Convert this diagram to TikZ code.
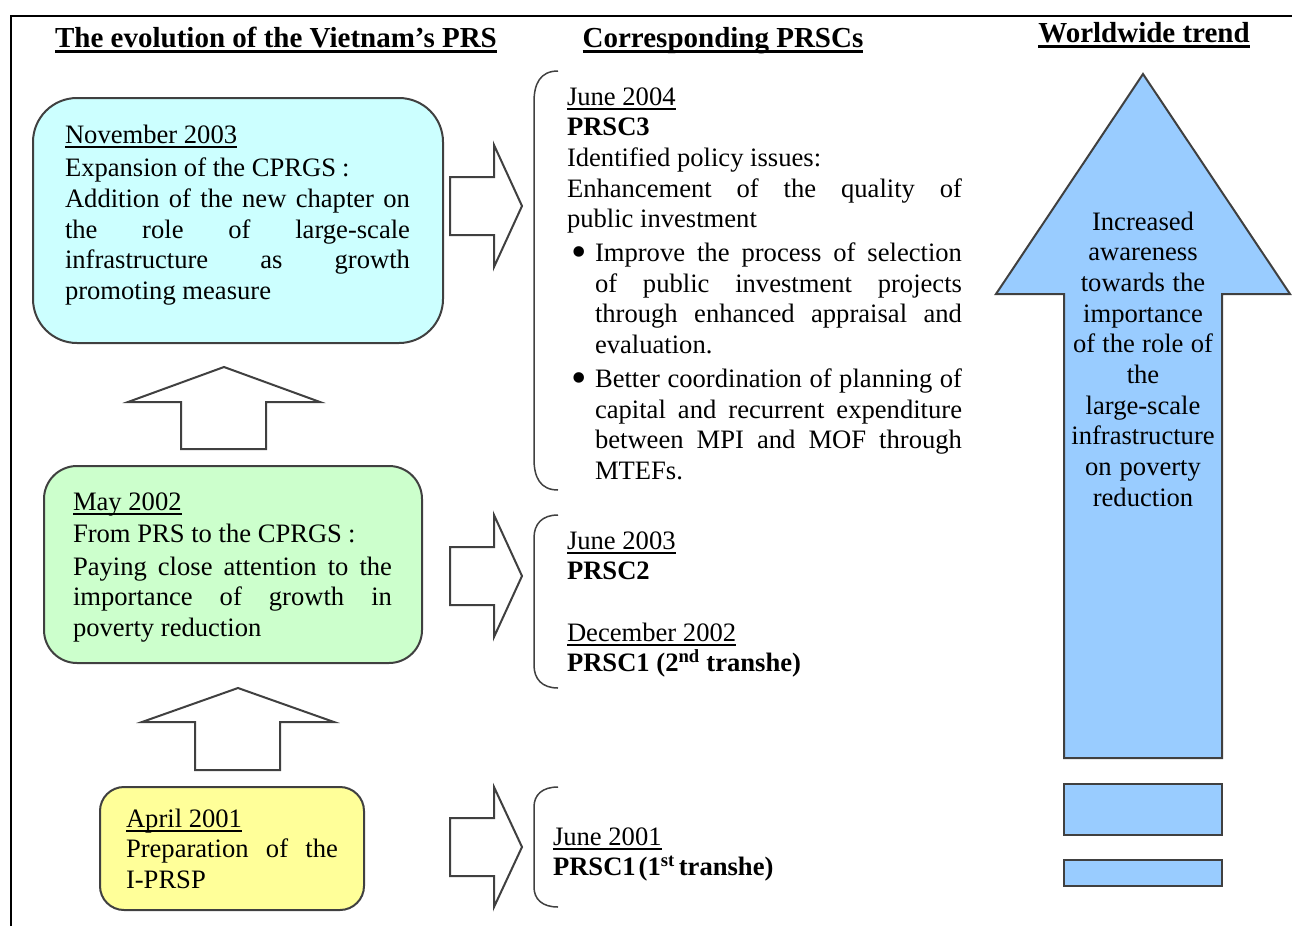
\documentclass[tikz,border=0pt]{standalone}
\usepackage{fontspec}
\setmainfont{Liberation Serif}
\definecolor{cyanfill}{HTML}{CCFFFF}
\definecolor{greenfill}{HTML}{CCFFCC}
\definecolor{yellowfill}{HTML}{FFFF99}
\definecolor{bluefill}{HTML}{99CCFF}
\definecolor{edge}{HTML}{404040}
% underlined date / heading with a rule at a fixed depth
\newcommand\dateul[1]{\leavevmode{\setbox0\hbox{#1}\rlap{\rule[-4.6pt]{\wd0}{1.4pt}}\box0}}
\newcommand\headul[1]{\leavevmode{\setbox0\hbox{#1}\rlap{\rule[-5.6pt]{\wd0}{2.5pt}}\box0}}
% wide colon after the strategy name
\newcommand\wcolon{\hspace{6pt}:}
% fully justified line (stretchable word spaces), plain and inside a bulleted item
\newcommand\jline[1]{\makebox[\hsize][s]{\spaceskip=0pt\xspaceskip=0pt #1}}
\newcommand\bdot{\makebox[28pt][l]{\hspace*{4pt}{\fontsize{44}{44}\selectfont\raisebox{-5pt}{\textbullet}}}}
\newcommand\bjline[1]{\hspace*{28pt}\makebox[\dimexpr\hsize-28pt\relax][s]{\spaceskip=0pt\xspaceskip=0pt #1}}
\newcommand\bfirst[1]{\bdot\makebox[\dimexpr\hsize-28pt\relax][s]{\spaceskip=0pt\xspaceskip=0pt #1}}
\newcommand\bplain[1]{\hspace*{28pt}#1}
\begin{document}
\begin{tikzpicture}[x=1pt,y=-1pt,
  every node/.style={inner sep=0pt, outer sep=0pt},
  body/.style={font=\fontsize{26.6}{30.7}\selectfont, align=left, anchor=base west,
    execute at begin node={\spaceskip=0pt\xspaceskip=0pt}},
  heading/.style={font=\fontsize{29}{33}\selectfont\bfseries, anchor=base},
  panel/.style={draw=edge, line width=2pt},
  blockarrow/.style={draw=edge, line width=2pt, fill=white, line join=miter},
  brace/.style={draw=edge, line width=1.5pt},
  frame/.style={draw=black, line width=1.3pt}]
\useasboundingbox (0,0) rectangle (1292,926);

% page frame
\draw[frame] (11,926) -- (11,16) -- (1292,16);

% column headings
\node[heading] (h1) at (276,47) {\headul{The evolution of the Vietnam’s PRS}};
\node[heading] (h2) at (723,47) {\headul{Corresponding PRSCs}};
\node[heading] (h3) at (1144,42) {\headul{Worldwide trend}};

% stages of the strategy
\node[panel, fill=cyanfill, rounded corners=44pt, minimum width=410pt, minimum height=245pt] (cprgs2003) at (238,220.5) {};
\node[panel, fill=greenfill, rounded corners=33pt, minimum width=378pt, minimum height=197pt] (cprgs2002) at (233,564.5) {};
\node[panel, fill=yellowfill, rounded corners=24pt, minimum width=264pt, minimum height=123pt] (iprsp2001) at (232,848.5) {};

\node[body, text width=345pt] (t2003) at (65,143) {%
\dateul{November 2003}\\[3pt]
Expansion of the CPRGS\wcolon\\
\jline{Addition of the new chapter on}\\
\jline{the role of large-scale}\\
\jline{infrastructure as growth}\\
promoting measure};

\node[body, text width=319pt] (t2002) at (73,510) {%
\dateul{May 2002}\\[1.3pt]
From PRS to the CPRGS\wcolon\\[2.3pt]
\jline{Paying close attention to the}\\
\jline{importance of growth in}\\
poverty reduction};

\node[body, text width=212pt] (t2001) at (126,827) {%
\dateul{April 2001}\\
\jline{Preparation of the}\\
I-PRSP};

% upward block arrows between the stages
\draw[blockarrow] (224,367) -- (320,402) -- (266,402) -- (266,449) -- (181,449) -- (181,402) -- (128,402) -- cycle;
\draw[blockarrow] (238,688) -- (334,722) -- (280,722) -- (280,770) -- (195,770) -- (195,722) -- (142,722) -- cycle;

% block arrows towards the PRSCs
\draw[blockarrow] (450,177) -- (494,177) -- (494,145) -- (522,206) -- (494,267) -- (494,235) -- (450,235) -- cycle;
\draw[blockarrow] (450,547) -- (494,547) -- (494,515) -- (522,576) -- (494,637) -- (494,605) -- (450,605) -- cycle;
\draw[blockarrow] (450,818) -- (494,818) -- (494,787) -- (522,847) -- (494,907) -- (494,876) -- (450,876) -- cycle;

% brackets round the PRSC texts
\draw[brace] (558,71) .. controls (540,71) and (534,84) .. (534,102) -- (534,459) .. controls (534,477) and (540,490) .. (558,490);
\draw[brace] (558,515) .. controls (542,515) and (534,524) .. (534,538) -- (534,665) .. controls (534,679) and (542,688) .. (558,688);
\draw[brace] (558,787) .. controls (542,787) and (534,795) .. (534,807) -- (534,887) .. controls (534,899) and (542,907) .. (558,907);

\node[body, text width=395pt] (prsc3) at (567,105) {%
\dateul{June 2004}\\
\textbf{PRSC3}\\
Identified policy issues:\\
\jline{Enhancement of the quality of}\\
public investment\\[3pt]
\bfirst{Improve the process of selection}\\
\bjline{of public investment projects}\\
\bjline{through enhanced appraisal and}\\
\bplain{evaluation.}\\[3pt]
\bfirst{Better coordination of planning of}\\
\bjline{capital and recurrent expenditure}\\
\bjline{between MPI and MOF through}\\
\bplain{MTEFs.}};

\node[body, text width=320pt] (prsc2) at (567,549) {%
\dateul{June 2003}\\
\textbf{PRSC2}\\[30.7pt]
\dateul{December 2002}\\
\textbf{PRSC1 (2\textsuperscript{nd} transhe)}};

\node[body, text width=320pt] (prsc1) at (553,845) {%
\dateul{June 2001}\\
\textbf{PRSC1\hspace{3pt}(1\textsuperscript{st}\hspace{4pt}transhe)}};

% worldwide trend arrow
\draw[draw=edge, line width=2pt, fill=bluefill, line join=miter]
  (1143,74) -- (1290,294) -- (1222,294) -- (1222,758) -- (1064,758) -- (1064,294) -- (996,294) -- cycle;
\draw[draw=edge, line width=2pt, fill=bluefill] (1064,784) rectangle (1222,835);
\draw[draw=edge, line width=2pt, fill=bluefill] (1064,860) rectangle (1222,886);

\node[body, anchor=base, align=center, text width=158pt] (trend) at (1143,230) {%
Increased\\ awareness\\ towards the\\ importance\\ of the role of\\ the\\ large-scale\\ infrastructure\\ on poverty\\ reduction};
\end{tikzpicture}
\end{document}
